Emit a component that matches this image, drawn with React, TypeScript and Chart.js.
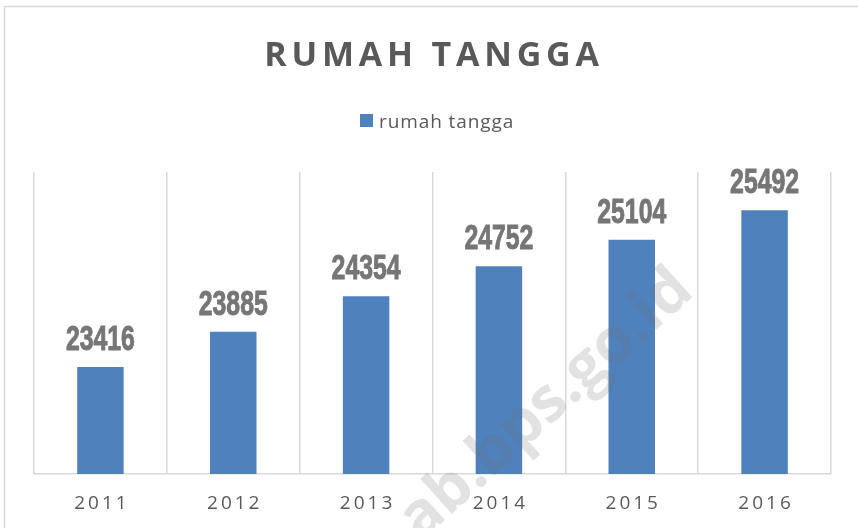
import React, { useEffect, useRef } from "react";
import { Chart, registerables } from "chart.js";

Chart.register(...registerables);

const TITLE = "RUMAH TANGGA";
const SERIES_NAME = "rumah tangga";
const YEARS = ["2011", "2012", "2013", "2014", "2015", "2016"];
const HOUSEHOLDS = [23416, 23885, 24354, 24752, 25104, 25492];
const Y_MIN = 22000;
const Y_MAX = 26000;
const WATERMARK = "ab.bps.go.id";

const W = 858;
const H = 528;
const BAR_COLOR = "#4F81BD";
const TEXT_GRAY = "#595959";
const LABEL_GRAY = "#767676";
const GRID_GRAY = "#d9d9d9";

const decorPlugin = {
  id: "decor",
  beforeDraw(chart: any) {
    const ctx: CanvasRenderingContext2D = chart.ctx;
    ctx.save();
    ctx.fillStyle = "#ffffff";
    ctx.fillRect(0, 0, W, H);
    // outer frame (cropped on right/bottom)
    ctx.strokeStyle = GRID_GRAY;
    ctx.lineWidth = 1.5;
    ctx.beginPath();
    ctx.moveTo(4.5, H);
    ctx.lineTo(4.5, 6.5);
    ctx.lineTo(W, 6.5);
    ctx.stroke();
    // title
    ctx.fillStyle = TEXT_GRAY;
    ctx.font = 'bold 34px "Open Sans"';
    (ctx as any).letterSpacing = "4.8px";
    ctx.textAlign = "center";
    ctx.textBaseline = "alphabetic";
    ctx.fillText(TITLE, 434, 66);
    // legend
    (ctx as any).letterSpacing = "0.9px";
    ctx.fillStyle = BAR_COLOR;
    ctx.fillRect(360, 114, 13, 13);
    ctx.fillStyle = TEXT_GRAY;
    ctx.font = '19px "Open Sans"';
    ctx.textAlign = "left";
    ctx.fillText(SERIES_NAME, 379, 128);
    ctx.restore();
  },
  afterDatasetsDraw(chart: any) {
    const ctx: CanvasRenderingContext2D = chart.ctx;
    const xScale = chart.scales.x;
    const meta = chart.getDatasetMeta(0);
    ctx.save();
    // x category labels
    ctx.fillStyle = TEXT_GRAY;
    ctx.font = '19px "Open Sans"';
    (ctx as any).letterSpacing = "3px";
    ctx.textAlign = "center";
    ctx.textBaseline = "alphabetic";
    YEARS.forEach((y, i) => {
      ctx.fillText(y, xScale.getPixelForValue(i) + 1.5, 509);
    });
    // value labels
    (ctx as any).letterSpacing = "0px";
    ctx.font = 'bold 35px "Liberation Sans"';
    ctx.fillStyle = LABEL_GRAY;
    ctx.strokeStyle = LABEL_GRAY;
    ctx.lineWidth = 1;
    ctx.textBaseline = "alphabetic";
    ctx.textAlign = "center";
    meta.data.forEach((bar: any, i: number) => {
      const txt = String(HOUSEHOLDS[i]);
      const w = ctx.measureText(txt).width;
      const sx = 69 / w;
      ctx.save();
      ctx.translate(bar.x, bar.y - 17);
      ctx.scale(sx, 1);
      ctx.fillText(txt, 0, 0);
      ctx.strokeText(txt, 0, 0);
      ctx.restore();
    });
    ctx.restore();
  },
  afterDraw(chart: any) {
    const ctx: CanvasRenderingContext2D = chart.ctx;
    ctx.save();
    ctx.translate(684, 281);
    ctx.rotate((-42 * Math.PI) / 180);
    ctx.font = 'bold 62px "Open Sans"';
    ctx.fillStyle = "rgba(110,110,110,0.2)";
    ctx.textAlign = "right";
    ctx.textBaseline = "middle";
    ctx.fillText(WATERMARK, 0, 0);
    ctx.restore();
  },
};

export default function App() {
  const canvasRef = useRef<HTMLCanvasElement | null>(null);

  useEffect(() => {
    const canvas = canvasRef.current;
    if (!canvas) return;
    const chart = new Chart(canvas, {
      type: "bar",
      data: {
        labels: YEARS,
        datasets: [
          {
            label: SERIES_NAME,
            data: HOUSEHOLDS,
            backgroundColor: BAR_COLOR,
            borderWidth: 0,
            barPercentage: 1,
            categoryPercentage: 0.35,
          },
        ],
      },
      options: {
        responsive: false,
        animation: false,
        devicePixelRatio: 1,
        layout: { padding: { left: 34, right: 27, top: 172, bottom: 54 } },
        plugins: {
          legend: { display: false },
          title: { display: false },
          tooltip: { enabled: false },
        },
        scales: {
          x: {
            offset: true,
            grid: {
              display: true,
              offset: true,
              color: GRID_GRAY,
              lineWidth: 1.5,
              drawTicks: false,
            },
            border: { display: true, color: GRID_GRAY, width: 1.5 },
            ticks: { display: false },
          },
          y: {
            display: false,
            min: Y_MIN,
            max: Y_MAX,
          },
        },
      },
      plugins: [decorPlugin],
    });
    return () => chart.destroy();
  }, []);

  return (
    <div style={{ position: "fixed", left: 0, top: 0, width: W, height: H, background: "#fff" }}>
      <canvas ref={canvasRef} width={W} height={H} style={{ display: "block", width: W, height: H }} />
    </div>
  );
}
